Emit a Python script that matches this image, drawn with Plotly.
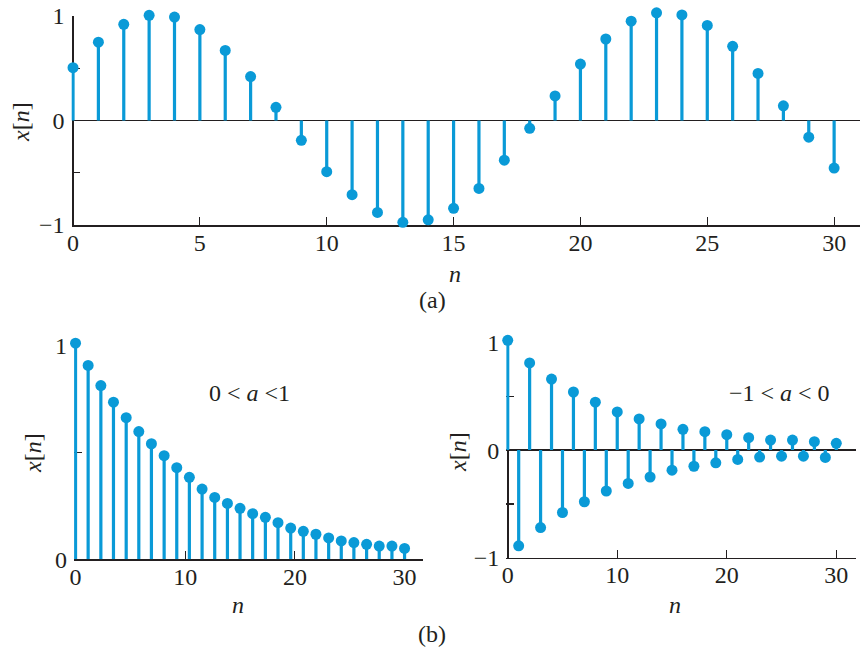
import plotly.graph_objects as go

# ---------------- data ----------------
n_a = list(range(31))
x_a = [0.505, 0.75, 0.92, 1.007, 0.99, 0.87, 0.67, 0.42, 0.126, -0.19, -0.49, -0.71,
       -0.88, -0.974, -0.95, -0.84, -0.65, -0.38, -0.075, 0.235, 0.54, 0.78, 0.95,
       1.03, 1.01, 0.91, 0.71, 0.45, 0.14, -0.16, -0.455]

n_b1 = [0, 1.15, 2.31, 3.46, 4.62, 5.77, 6.92, 8.08, 9.23, 10.38, 11.54, 12.69, 13.85,
        15.0, 16.15, 17.31, 18.46, 19.62, 20.77, 21.92, 23.08, 24.23, 25.38, 26.54,
        27.69, 28.85, 30.0]
x_b1 = [1.01, 0.906, 0.812, 0.734, 0.662, 0.597, 0.540, 0.484, 0.428, 0.383, 0.328,
        0.289, 0.261, 0.238, 0.213, 0.196, 0.171, 0.146, 0.131, 0.117, 0.100, 0.086,
        0.078, 0.070, 0.062, 0.062, 0.051]

n_b2 = list(range(31))
x_b2 = [1.02, -0.89, 0.81, -0.72, 0.66, -0.58, 0.54, -0.48, 0.445, -0.38, 0.355, -0.31,
        0.29, -0.25, 0.243, -0.187, 0.193, -0.15, 0.171, -0.118, 0.143, -0.087, 0.115,
        -0.065, 0.093, -0.056, 0.093, -0.056, 0.078, -0.068, 0.063]

ticks_a = [0, 5, 10, 15, 20, 25, 30]
ticks_b = [0, 10, 20, 30]

# ---------------- style ----------------
BLUE = "#0a9ad7"
INK = "#231f20"
FONT = "Liberation Serif, Times New Roman, Times, serif"
FS = 24
W, H = 861, 649


def px_x(p):
    return p / W


def px_y(p):
    return 1 - p / H


# panel geometry in window pixels
panels = [
    dict(xr=[-0.06, 31], xd=(71.5, 859.5), yr=[-1, 1], yd=(225, 16)),
    dict(xr=[-0.13, 31.7], xd=(74.1, 423.2), yr=[0, 1], yd=(559.3, 345.3)),
    dict(xr=[-0.13, 31.8], xd=(506.3, 856), yr=[-1, 1], yd=(557.7, 342.5)),
]
EXTRA = 14  # px of headroom for the marker-only axes

fig = go.Figure()
tickfont = dict(family=FONT, size=FS, color=INK)

layout = {}
for i, p in enumerate(panels):
    k = "" if i == 0 else str(i + 1)
    km = str(i + 4)
    xdom = [px_x(p["xd"][0]), px_x(p["xd"][1])]
    ydom = [px_y(p["yd"][0]), px_y(p["yd"][1])]
    layout["xaxis" + k] = dict(domain=xdom, range=p["xr"], anchor="y" + k)
    layout["yaxis" + k] = dict(domain=ydom, range=p["yr"], anchor="x" + k)
    span_px = p["yd"][0] - p["yd"][1]
    upu = span_px / (p["yr"][1] - p["yr"][0])
    extra = min(EXTRA, p["yd"][1])
    layout["xaxis" + km] = dict(domain=xdom, range=p["xr"], anchor="y" + km,
                                visible=False, fixedrange=True)
    layout["yaxis" + km] = dict(domain=[ydom[0], min(1.0, px_y(p["yd"][1] - extra))],
                                range=[p["yr"][0], p["yr"][1] + extra / upu],
                                anchor="x" + km, visible=False, fixedrange=True)


def add_stem(n, v, xa, ya, xm, ym):
    sx, sy = [], []
    for xi, yi in zip(n, v):
        sx += [xi, xi, None]
        sy += [0, yi, None]
    fig.add_trace(go.Scatter(x=sx, y=sy, mode="lines", xaxis=xa, yaxis=ya,
                             line=dict(color=BLUE, width=3.2), hoverinfo="skip",
                             showlegend=False))
    fig.add_trace(go.Scatter(x=n, y=v, mode="markers", xaxis=xm, yaxis=ym,
                             marker=dict(color=BLUE, size=11), cliponaxis=False,
                             showlegend=False))


add_stem(n_a, x_a, "x", "y", "x4", "y4")
add_stem(n_b1, x_b1, "x2", "y2", "x5", "y5")
add_stem(n_b2, x_b2, "x3", "y3", "x6", "y6")

xcommon = dict(showgrid=False, zeroline=True, zerolinecolor=INK, zerolinewidth=1.7,
               showline=True, linecolor=INK, linewidth=1.7,
               ticks="inside", ticklen=8, tickwidth=1.2, tickcolor=INK,
               tickfont=tickfont, ticklabelstandoff=-5, ticklabeloverflow="allow",
               layer="below traces", fixedrange=True, automargin=False)
ycommon = dict(showgrid=False, zerolinecolor=INK, zerolinewidth=1.7,
               showline=False, ticks="inside", ticklen=8, tickwidth=1.2,
               tickcolor=INK, tickfont=tickfont, ticklabelstandoff=6,
               ticklabeloverflow="allow",
               layer="below traces", fixedrange=True, automargin=False)

layout["xaxis"].update(xcommon, tickvals=ticks_a, ticktext=[str(t) for t in ticks_a])
layout["xaxis2"].update(xcommon, tickvals=ticks_b, ticktext=[str(t) for t in ticks_b])
layout["xaxis3"].update(xcommon, tickvals=ticks_b, ticktext=[str(t) for t in ticks_b])
layout["yaxis"].update(ycommon, zeroline=True, tickvals=[-1, -0.5, 0, 0.5, 1],
                       ticktext=["\u22121", "", "0", "", "1"])
layout["yaxis2"].update(ycommon, zeroline=False, tickvals=[0, 0.5, 1],
                        ticktext=["0", "", "1"])
layout["yaxis3"].update(ycommon, zeroline=True, tickvals=[-1, -0.5, 0, 0.5, 1],
                        ticktext=["\u22121", "", "0", "", "1"])

fig.update_layout(
    width=W, height=H,
    margin=dict(l=0, r=0, t=0, b=0, pad=0, autoexpand=False),
    paper_bgcolor="white", plot_bgcolor="rgba(0,0,0,0)", showlegend=False,
    **layout,
)

ann = [
    ("<i>x</i>[<i>n</i>]", 21, 122, -90),
    ("<i>n</i>", 455, 274, 0),
    ("(a)", 432, 300, 0),
    ("<i>x</i>[<i>n</i>]", 33, 453, -90),
    ("<i>n</i>", 238, 605, 0),
    ("0 &lt; <i>a</i> &lt;1", 249, 393, 0),
    ("<i>x</i>[<i>n</i>]", 458, 452, -90),
    ("<i>n</i>", 675, 605, 0),
    ("\u22121 &lt; <i>a</i> &lt; 0", 779, 393, 0),
    ("(b)", 432, 634, 0),
]
for text, x, y, ang in ann:
    fig.add_annotation(text=text, x=px_x(x), y=px_y(y), xref="paper", yref="paper",
                       xanchor="center", yanchor="middle", showarrow=False,
                       textangle=ang, font=dict(family=FONT, size=FS, color=INK))

fig.write_html("out.html",
               config={"displayModeBar": False, "staticPlot": True},
               post_script="document.body.style.margin='0';"
                           "document.body.style.overflow='hidden';")
